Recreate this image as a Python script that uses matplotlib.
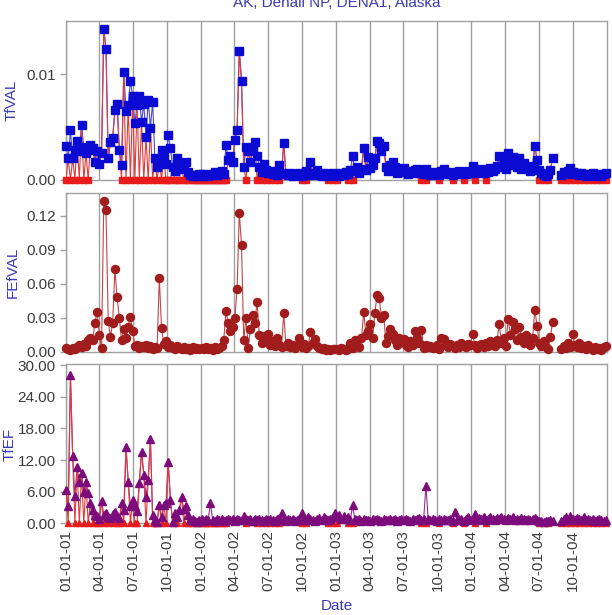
import numpy as np
import pandas as pd
import matplotlib
matplotlib.use('Agg')
import matplotlib.pyplot as plt
import matplotlib.dates as mdates
import matplotlib.ticker as mticker

plt.rcParams['font.family'] = ['Liberation Sans', 'DejaVu Sans']

# Sample dates (one sample every 6 days, 61 per year):
lstDate = pd.date_range('2001-01-01', periods=244, freq='6D')

# TfVAL (blue squares), one list per year:
lstTf01 = [0.0032, 0.0020, 0.0047, 0.0020, 0.0028, 0.0037, 0.0027, 0.0052, 0.0031, 0.0025,
           0.0028, 0.0033, 0.0030, 0.0017, 0.0027, 0.0015, 0.0025, 0.0143, 0.0124, 0.0020,
           0.0036, 0.0039, 0.0066, 0.0072, 0.0028, 0.0014, 0.0102, 0.0065, 0.0071, 0.0094,
           0.0079, 0.0054, 0.0071, 0.0079, 0.0055, 0.0072, 0.0040, 0.0076, 0.0049, 0.0074,
           0.0020, 0.0012, 0.0017, 0.0028, 0.0021, 0.0015, 0.0042, 0.0030, 0.0012, 0.0008,
           0.0020, 0.0010, 0.0014, 0.0011, 0.0017, 0.0007, 0.0004, 0.0003, 0.0004, 0.0003,
           0.0005]
lstTf02 = [0.0005, 0.0003, 0.0004, 0.0003, 0.0005, 0.0004, 0.0007, 0.0004, 0.0006, 0.0008,
           0.0005, 0.0033, 0.0019, 0.0022, 0.0017, 0.0038, 0.0047, 0.0122, 0.0094, 0.0012,
           0.0031, 0.0027, 0.0017, 0.0028, 0.0036, 0.0022, 0.0012, 0.0007, 0.0015, 0.0009,
           0.0006, 0.0008, 0.0005, 0.0007, 0.0004, 0.0014, 0.0006, 0.0035, 0.0005, 0.0004,
           0.0006, 0.0003, 0.0005, 0.0004, 0.0006, 0.0003, 0.0005, 0.0008, 0.0004, 0.0017,
           0.0006, 0.0004, 0.0009, 0.0005, 0.0003, 0.0006, 0.0004, 0.0005, 0.0003, 0.0006,
           0.0004]
lstTf03 = [0.0005, 0.0003, 0.0006, 0.0004, 0.0007, 0.0005, 0.0009, 0.0022, 0.0008, 0.0012,
           0.0006, 0.0010, 0.0030, 0.0009, 0.0021, 0.0011, 0.0014, 0.0020, 0.0037, 0.0035,
           0.0027, 0.0032, 0.0012, 0.0008, 0.0014, 0.0017, 0.0012, 0.0006, 0.0009, 0.0007,
           0.0011, 0.0008, 0.0005, 0.0007, 0.0006, 0.0009, 0.0010, 0.0006, 0.0008, 0.0005,
           0.0010, 0.0006, 0.0004, 0.0007, 0.0005, 0.0006, 0.0004, 0.0008, 0.0010, 0.0006,
           0.0005, 0.0007, 0.0004, 0.0006, 0.0005, 0.0008, 0.0006, 0.0007, 0.0005, 0.0008,
           0.0006]
lstTf04 = [0.0013, 0.0006, 0.0008, 0.0007, 0.0010, 0.0006, 0.0009, 0.0007, 0.0011, 0.0008,
           0.0010, 0.0013, 0.0022, 0.0012, 0.0018, 0.0010, 0.0025, 0.0014, 0.0021, 0.0017,
           0.0012, 0.0020, 0.0010, 0.0016, 0.0011, 0.0013, 0.0008, 0.0012, 0.0032, 0.0019,
           0.0009, 0.0006, 0.0004, 0.0003, 0.0005, 0.0009, 0.0020, np.nan, np.nan, np.nan,
           0.0004, 0.0007, 0.0005, 0.0008, 0.0011, 0.0007, 0.0005, 0.0006, 0.0004, 0.0006,
           0.0005, 0.0003, 0.0005, 0.0004, 0.0006, 0.0003, 0.0005, 0.0004, 0.0003, 0.0005,
           0.0006]

# FEfVAL (dark red circles):
lstFe01 = [0.003, 0.002, 0.001, 0.003, 0.002, 0.004, 0.006, 0.004, 0.007, 0.005,
           0.010, 0.012, 0.010, 0.025, 0.035, 0.015, 0.003, 0.133, 0.125, 0.027,
           0.013, 0.025, 0.073, 0.048, 0.030, 0.010, 0.020, 0.012, 0.022, 0.031,
           0.018, 0.005, 0.006, 0.003, 0.005, 0.004, 0.006, 0.003, 0.005, 0.002,
           0.004, 0.003, 0.065, 0.021, 0.007, 0.009, 0.004, 0.006, 0.003, 0.002,
           0.005, 0.003, 0.002, 0.004, 0.002, 0.003, 0.001, 0.004, 0.002, 0.003,
           0.002]
lstFe02 = [0.003, 0.002, 0.004, 0.002, 0.003, 0.001, 0.004, 0.002, 0.003, 0.005,
           0.010, 0.036, 0.025, 0.018, 0.022, 0.030, 0.055, 0.123, 0.094, 0.010,
           0.030, 0.003, 0.020, 0.032, 0.025, 0.044, 0.015, 0.008, 0.014, 0.010,
           0.016, 0.006, 0.009, 0.005, 0.012, 0.006, 0.004, 0.034, 0.005, 0.008,
           0.004, 0.006, 0.003, 0.005, 0.012, 0.004, 0.007, 0.003, 0.005, 0.017,
           0.008, 0.011, 0.005, 0.003, 0.002, 0.003, 0.001, 0.002, 0.001, 0.002,
           0.002]
lstFe03 = [0.002, 0.001, 0.003, 0.002, 0.001, 0.002, 0.008, 0.003, 0.010, 0.005,
           0.004, 0.012, 0.035, 0.015, 0.018, 0.024, 0.012, 0.034, 0.050, 0.047,
           0.030, 0.032, 0.008, 0.014, 0.020, 0.016, 0.010, 0.006, 0.012, 0.009,
           0.011, 0.006, 0.004, 0.009, 0.006, 0.018, 0.012, 0.008, 0.019, 0.003,
           0.006, 0.004, 0.005, 0.003, 0.004, 0.006, 0.002, 0.012, 0.011, 0.006,
           0.004, 0.007, 0.005, 0.003, 0.006, 0.004, 0.008, 0.005, 0.004, 0.007,
           0.006]
lstFe04 = [0.016, 0.006, 0.003, 0.005, 0.007, 0.004, 0.008, 0.005, 0.009, 0.006,
           0.005, 0.010, 0.024, 0.008, 0.012, 0.005, 0.029, 0.015, 0.026, 0.020,
           0.010, 0.022, 0.013, 0.008, 0.015, 0.010, 0.006, 0.012, 0.037, 0.023,
           0.008, 0.005, 0.009, 0.004, 0.002, 0.013, 0.026, np.nan, np.nan, np.nan,
           0.002, 0.005, 0.003, 0.008, 0.004, 0.016, 0.006, 0.004, 0.008, 0.003,
           0.005, 0.002, 0.006, 0.003, 0.001, 0.004, 0.002, 0.003, 0.001, 0.004,
           0.005]

# TfEF (purple triangles):
lstEf01 = [6.4, 3.2, 28.1, 12.8, 5.1, 10.7, 7.9, 9.5, 6.0, 7.9,
           5.7, 3.8, 2.5, 1.6, 1.3, 0.8, 4.3, 1.6, 1.9, 1.2,
           1.0, 1.8, 2.2, 1.4, 1.0, 3.8, 2.5, 14.5, 7.9, 3.2,
           4.4, 3.2, 2.4, 7.6, 13.6, 9.2, 5.0, 8.2, 15.9, 1.6,
           0.6, 0.3, 3.5, 1.2, 3.5, 3.8, 11.7, 4.4, 0.3, 1.9,
           1.2, 2.5, 4.9, 2.7, 3.2, 1.6, 0.6, 0.9, 0.5, 0.3,
           0.7]
lstEf02 = [0.8, 0.5, 0.9, 0.6, 3.8, 0.7, 0.4, 0.8, 0.6, 0.9,
           0.5, 0.7, 0.9, 0.6, 0.8, 0.5, 0.9, 0.7, 0.6, 1.3,
           0.8, 0.6, 0.9, 0.5, 0.8, 0.6, 0.9, 0.7, 0.5, 0.8,
           0.6, 0.9, 0.7, 0.5, 0.8, 1.0, 1.9, 0.7, 0.5, 0.9,
           0.6, 0.8, 0.5, 0.7, 0.9, 1.9, 0.8, 0.6, 1.2, 0.9,
           0.7, 0.5, 0.8, 1.0, 0.6, 1.1, 0.8, 0.6, 0.9, 1.2,
           1.9]
lstEf03 = [1.2, 1.5, 0.8, 1.3, 0.9, 1.1, 0.7, 3.4, 0.8, 0.6,
           0.9, 0.5, 0.8, 0.6, 0.7, 0.5, 0.8, 0.6, 0.9, 0.7,
           0.5, 0.8, 0.6, 0.7, 0.9, 0.6, 0.8, 0.5, 0.7, 0.9,
           0.6, 0.8, 0.7, 0.5, 0.9, 0.6, 0.8, 1.0, 0.7, 0.9,
           7.1, 0.8, 0.6, 0.9, 0.7, 0.5, 0.8, 0.6, 0.9, 0.7,
           0.6, 0.8, 0.5, 2.1, 0.7, 0.6, 0.9, 0.5, 0.8, 1.1,
           0.7]
lstEf04 = [0.9, 1.8, 0.7, 1.0, 0.8, 1.2, 0.6, 0.9, 1.1, 0.8,
           0.7, 1.0, 0.8, 1.2, 0.9, 0.6, 1.0, 0.8, 1.1, 0.7,
           0.9, 0.6, 1.0, 0.8, 0.7, 0.9, 0.6, 0.8, 1.0, 0.7,
           0.5, 0.4, 0.3, 0.5, 0.4, 0.6, 0.5, np.nan, np.nan, np.nan,
           0.5, 0.9, 1.2, 0.7, 1.4, 0.8, 0.6, 1.0, 0.8, 0.6,
           1.2, 0.7, 0.9, 0.6, 0.8, 0.5, 0.7, 0.9, 0.6, 0.5,
           0.7]

# Red (flagged) series: '0' = sample at zero, '1' = same as main value.
lstFlgTop = ['010101010101' + '111' + '1111111111' + '010101010101010101010'
             + '001000100010000',
             '000000000000' + '11111111' + '0' + '1111' + '010101010101'
             + '11111111' + '0101' + '11111111' + '0101',
             '01' + '111' + '0101' + '11111111111111111111111111111' + '010'
             + '11111' + '0' + '1' + '1' + '111' + '0' + '1111' + '0' + '111',
             '1' + '0' + '1111' + '0' + '11111111111111111111111' + '010101'
             + '1' + '111' + '010101010101010101010']
lstFlgBot = ['1011010101' + '0101001010' + '1010010110' + '1001110110'
             + '0010101101' + '0110100010' + '0'] + lstFlgTop[1:]

vecTf = np.array(lstTf01 + lstTf02 + lstTf03 + lstTf04)
vecFe = np.array(lstFe01 + lstFe02 + lstFe03 + lstFe04)
vecEf = np.array(lstEf01 + lstEf02 + lstEf03 + lstEf04)
vecFlgTop = np.array([int(c) for c in ''.join(lstFlgTop)])
vecFlgBot = np.array([int(c) for c in ''.join(lstFlgBot)])
vecTfRed = np.where(vecFlgTop == 1, vecTf, 0.0 * vecTf)
vecEfRed = np.where(vecFlgBot == 1, vecEf, 0.0 * vecEf)

strTitle = 'AK, Denali NP, DENA1, Alaska'
strClrTxt = '#3a3ab4'
strClrGrd = '#a0a0a0'
strClrTck = '#3c3c3c'
lstTck = pd.date_range('2001-01-01', '2004-10-01', freq='QS')

# Create figure:
fgr01 = plt.figure(figsize=(6.12, 6.15), dpi=100)
varW, varH = 612.0, 615.0


def make_axis(varTop, varBot, varYmax, lstYtck, strFmt):
    """Axis with quarterly vertical grid lines."""
    axs = fgr01.add_axes([66.0 / varW, 1.0 - varBot / varH,
                          541.0 / varW, (varBot - varTop) / varH])
    axs.set_xlim(pd.Timestamp('2001-01-01'), pd.Timestamp('2005-01-01'))
    axs.set_ylim(0.0, varYmax)
    axs.set_xticks(lstTck)
    axs.xaxis.set_major_formatter(mdates.DateFormatter('%m-%d-%y'))
    axs.set_yticks(lstYtck)
    axs.yaxis.set_major_formatter(mticker.FormatStrFormatter(strFmt))
    axs.grid(axis='x', color=strClrGrd, linewidth=1.0)
    axs.set_axisbelow(True)
    for strSpn in axs.spines:
        axs.spines[strSpn].set_color(strClrGrd)
        axs.spines[strSpn].set_linewidth(1.0)
    axs.tick_params(labelsize=11, labelcolor=strClrTck, color=strClrGrd,
                    length=4, width=1)
    axs.tick_params(axis='x', labelbottom=False, length=0)
    return axs


# Top panel: TfVAL
axs01 = make_axis(20.7, 179.5, 0.0151, [0.0, 0.01], '%.2f')
axs01.plot(lstDate, vecTf, color='#4848d8', linewidth=0.8, zorder=2)
axs01.plot(lstDate, vecTfRed, color='#e03c3c', linewidth=0.8, zorder=3)
axs01.plot(lstDate, vecTfRed, linestyle='none', marker='s', markersize=4.6,
           color='#e81c1c', zorder=4, clip_on=False)
axs01.plot(lstDate, vecTf, linestyle='none', marker='s', markersize=5.3,
           color='#0a0ad2', zorder=5, clip_on=False)

# Middle panel: FEfVAL
axs02 = make_axis(192.7, 351.6, 0.1406, [0.0, 0.03, 0.06, 0.09, 0.12],
                  '%.2f')
axs02.plot(lstDate, vecFe, color='#c04848', linewidth=0.8, zorder=2)
axs02.plot(lstDate, vecFe, linestyle='none', marker='o', markersize=5.8,
           color='#a11c1c', zorder=3, clip_on=False)

# Bottom panel: TfEF
axs03 = make_axis(364.0, 523.3, 30.2, [0, 6, 12, 18, 24, 30], '%.2f')
axs03.plot(lstDate, vecEf, color='#943094', linewidth=0.8, zorder=2)
axs03.plot(lstDate, vecEfRed, color='#e03c3c', linewidth=0.8, zorder=3)
axs03.plot(lstDate, vecEfRed, linestyle='none', marker='^', markersize=5,
           color='#e81c1c', zorder=4, clip_on=False)
axs03.plot(lstDate, vecEf, linestyle='none', marker='^', markersize=5.8,
           color='#7c0c7c', zorder=5, clip_on=False)
axs03.tick_params(axis='x', labelbottom=True, labelrotation=90, pad=5)

# Labels:
fgr01.text(336.5 / varW, 1.0 - 7.0 / varH, strTitle, ha='center',
           va='baseline', color=strClrTxt, fontsize=11)
fgr01.text(12.0 / varW, 1.0 - 100.0 / varH, 'TfVAL', rotation=90,
           ha='center', va='center', color=strClrTxt, fontsize=11)
fgr01.text(12.5 / varW, 1.0 - 272.0 / varH, 'FEfVAL', rotation=90,
           ha='center', va='center', color=strClrTxt, fontsize=11)
fgr01.text(10.0 / varW, 1.0 - 444.0 / varH, 'TfEF', rotation=90,
           ha='center', va='center', color=strClrTxt, fontsize=11,
           zorder=0)
fgr01.text(337.0 / varW, 1.0 - 606.0 / varH, 'Date', ha='center',
           va='center', color=strClrTxt, fontsize=11)

fgr01.savefig('out.png', dpi=100, facecolor='w')
plt.close(fgr01)
